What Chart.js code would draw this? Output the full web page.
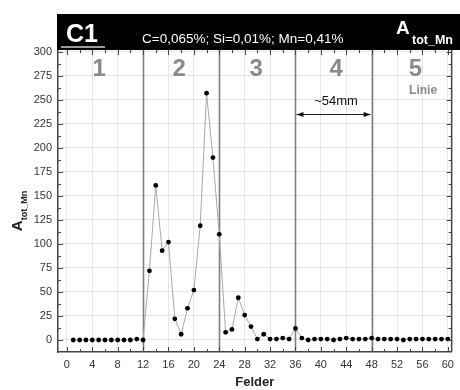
<!DOCTYPE html>
<html>
<head>
<meta charset="utf-8">
<script src="https://cdn.jsdelivr.net/npm/chart.js@4/dist/chart.umd.min.js"></script>
<style>
html,body{margin:0;padding:0;background:#fff;}
#wrap{width:460px;height:390px;position:relative;}
</style>
</head>
<body>
<div id="wrap"><canvas id="c" width="460" height="390"></canvas></div>
<script>
// ---- data ----
const felder = [1,2,3,4,5,6,7,8,9,10,11,12,13,14,15,16,17,18,19,20,21,22,23,24,25,26,27,28,29,30,
  31,32,33,34,35,36,37,38,39,40,41,42,43,44,45,46,47,48,49,50,51,52,53,54,55,56,57,58,59,60];
const aTotMn = [0,0,0,0,0,0,0,0,0,0,1,0,72,161,93,102,22,6,33,52,119,257,190,110,8,11,44,26,14,1,
  6,1,1,2,1,12,2,0,1,1,1,0,1,2,1,1,1,2,1,1,1,1,0,1,1,1,1,1,1,1];
const xTickValues = [0,4,8,12,16,20,24,28,32,36,40,44,48,52,56,60];
const yTickValues = [0,25,50,75,100,125,150,175,200,225,250,275,300];
const sectionBounds = [12,24,36,48];
const sectionLabels = ['1','2','3','4','5'];
const sectionCenters = [5.1,17.7,29.8,42.4,54.9];
const headerTitle = 'C1';
const headerComposition = 'C=0,065%; Si=0,01%; Mn=0,41%';
const measureText = '~54mm';
const lineText = 'Linie';
const xTitle = 'Felder';

const points = felder.map((f,i)=>({x:f,y:aTotMn[i]}));
const FONT = '"Liberation Sans", Arial, sans-serif';

const decor = {
  id:'decor',
  beforeDatasetsDraw(chart){
    const {ctx, chartArea:a, scales:{x,y}} = chart;
    ctx.save();
    ctx.strokeStyle = '#7f7f7f';
    ctx.lineWidth = 1.6;
    sectionBounds.forEach(v=>{
      const px = Math.round(x.getPixelForValue(v))+0.5;
      ctx.beginPath(); ctx.moveTo(px,a.top); ctx.lineTo(px,a.bottom); ctx.stroke();
    });
    // section numbers
    ctx.fillStyle = '#8a8a8a';
    ctx.font = 'bold 24px ' + FONT;
    ctx.textAlign = 'center'; ctx.textBaseline = 'middle';
    sectionLabels.forEach((t,i)=>{
      ctx.fillText(t, x.getPixelForValue(sectionCenters[i]), 69);
    });
    ctx.font = 'bold 12px ' + FONT;
    ctx.fillText(lineText, x.getPixelForValue(56.1), 91);
    // measure arrow
    ctx.fillStyle = '#111';
    ctx.font = '13px ' + FONT;
    ctx.fillText(measureText, x.getPixelForValue(42.4), 101);
    const x1 = x.getPixelForValue(36)+1, x2 = x.getPixelForValue(48)-1, ay = 114.5;
    ctx.strokeStyle = '#222'; ctx.lineWidth = 1;
    ctx.beginPath(); ctx.moveTo(x1,ay); ctx.lineTo(x2,ay); ctx.stroke();
    ctx.beginPath(); ctx.moveTo(x1,ay); ctx.lineTo(x1+7,ay-2.5); ctx.lineTo(x1+7,ay+2.5); ctx.closePath(); ctx.fill();
    ctx.beginPath(); ctx.moveTo(x2,ay); ctx.lineTo(x2-7,ay-2.5); ctx.lineTo(x2-7,ay+2.5); ctx.closePath(); ctx.fill();
    ctx.restore();
  },
  afterDraw(chart){
    const {ctx, chartArea:a, scales:{x,y}} = chart;
    ctx.save();
    // inward ticks
    ctx.strokeStyle = '#444'; ctx.lineWidth = 1;
    for(let v=0; v<=60; v+=2){
      const px = Math.round(x.getPixelForValue(v))+0.5;
      const L = (v%4===0)?5:3;
      ctx.beginPath(); ctx.moveTo(px,a.bottom); ctx.lineTo(px,a.bottom-L); ctx.stroke();
      ctx.beginPath(); ctx.moveTo(px,a.top); ctx.lineTo(px,a.top+L); ctx.stroke();
    }
    for(let v=0; v<=300; v+=12.5){
      const py = Math.round(y.getPixelForValue(v))+0.5;
      const L = (v%25===0)?5:3;
      ctx.beginPath(); ctx.moveTo(a.left,py); ctx.lineTo(a.left+L,py); ctx.stroke();
      ctx.beginPath(); ctx.moveTo(a.right,py); ctx.lineTo(a.right-L,py); ctx.stroke();
    }
    ctx.strokeStyle = '#444'; ctx.lineWidth = 1.5;
    ctx.beginPath(); ctx.moveTo(a.right,a.top); ctx.lineTo(a.right,a.bottom); ctx.stroke();
    // header band
    ctx.fillStyle = '#000';
    ctx.fillRect(a.left-1, 14, chart.width-(a.left-1), a.top-14);
    ctx.fillStyle = '#fff';
    ctx.textAlign = 'left'; ctx.textBaseline = 'alphabetic';
    ctx.font = 'bold 25px ' + FONT;
    ctx.fillText(headerTitle, 66, 42);
    ctx.strokeStyle = '#cfcfcf'; ctx.lineWidth = 1.5;
    ctx.beginPath(); ctx.moveTo(61,47); ctx.lineTo(105,47); ctx.stroke();
    ctx.font = '13.5px ' + FONT;
    ctx.fillText(headerComposition, 142, 43);
    ctx.font = 'bold 19px ' + FONT;
    ctx.fillText('A', 396, 34);
    ctx.font = 'bold 12.5px ' + FONT;
    ctx.fillText('tot_Mn', 412, 44);
    // y title
    ctx.translate(22, 211);
    ctx.rotate(-Math.PI/2);
    ctx.fillStyle = '#222';
    ctx.textAlign = 'left';
    ctx.font = 'bold 15px ' + FONT;
    const wA = ctx.measureText('A').width;
    ctx.font = 'bold 9px ' + FONT;
    const wS = ctx.measureText('tot_Mn').width;
    const x0 = -(wA+wS)/2;
    ctx.font = 'bold 15px ' + FONT;
    ctx.fillText('A', x0, 0);
    ctx.font = 'bold 9px ' + FONT;
    ctx.fillText('tot_Mn', x0+wA, 5);
    ctx.restore();
  }
};

new Chart(document.getElementById('c'), {
  type:'line',
  data:{datasets:[{
    data: points,
    borderColor:'#a8a8a8',
    borderWidth:1,
    pointBackgroundColor:'#000',
    pointBorderColor:'#000',
    pointRadius:2.4,
    pointBorderWidth:0,
    tension:0,
    fill:false
  }]},
  options:{
    responsive:false,
    animation:false,
    layout:{padding:{top:50,right:4,left:0,bottom:0}},
    plugins:{legend:{display:false},tooltip:{enabled:false}},
    scales:{
      x:{
        type:'linear', min:-1.4, max:60.6,
        afterBuildTicks(s){ s.ticks = xTickValues.map(v=>({value:v})); },
        afterFit(s){ s.height = 38; },
        grid:{color:'#e6e6e6', drawTicks:false, lineWidth:1},
        border:{display:true, color:'#444', width:1.5},
        ticks:{color:'#333', padding:6, font:{size:11, family:FONT}, maxRotation:0, autoSkip:false},
        title:{display:true, text:xTitle, color:'#222', padding:{top:0,bottom:0}, font:{size:13, weight:'bold', family:FONT}}
      },
      y:{
        type:'linear', min:-12.5, max:302,
        afterBuildTicks(s){ s.ticks = yTickValues.map(v=>({value:v})); },
        afterFit(s){ s.width = 58; },
        grid:{color:'#e6e6e6', drawTicks:false, lineWidth:1},
        border:{display:true, color:'#444', width:1.5},
        ticks:{color:'#333', padding:6, font:{size:11, family:FONT}}
      }
    }
  },
  plugins:[decor]
});
</script>
</body>
</html>
